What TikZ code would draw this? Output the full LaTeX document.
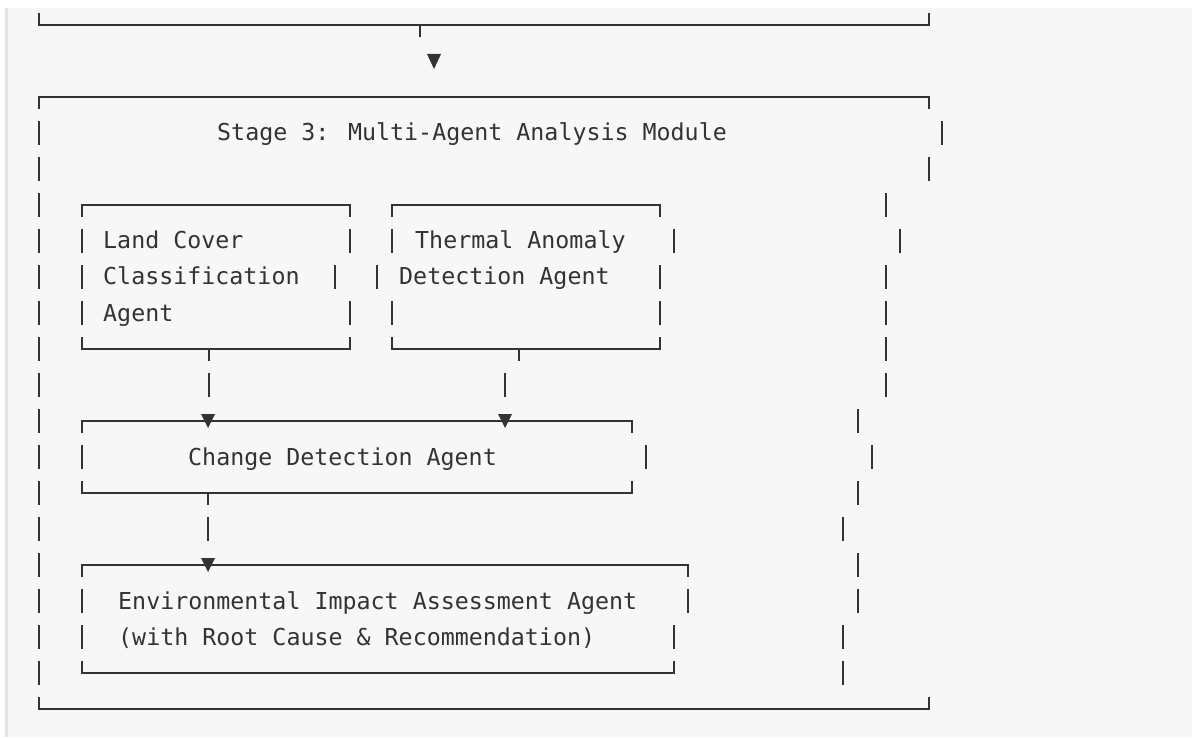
\documentclass[tikz,border=0pt]{standalone}
\usepackage{fontspec}
\newfontfamily\codefont{DejaVu Sans Mono}
\usetikzlibrary{calc}

\definecolor{ink}{HTML}{333333}
\definecolor{paper}{HTML}{F7F7F7}
\definecolor{rim}{HTML}{E3E3E3}

\begin{document}
\begin{tikzpicture}[x=1pt, y=-1pt,
		txt/.style={anchor=base west, inner sep=0pt, text=ink, font=\codefont\fontsize{23.3}{28}\selectfont},
		boxline/.style={draw=ink, line width=1.6pt},
		vbar/.style={draw=ink, line width=1.5pt},
		tip/.style={fill=ink}]
		
		\useasboundingbox (0,0) rectangle (1192,738);
		
		% Hintergrund
		\fill[paper] (5,8) rectangle (1192,737);
		\fill[rim] (5,8) rectangle (7.5,737);
		
		% Rest der vorigen Stufe
		\draw[boxline] (39,13) -- (39,25) -- (929,25) -- (929,13);
		\coordinate (prevTee) at (420,25);
		\coordinate (stageIn) at (434,61);
		\draw[vbar] (prevTee) -- ++(0,12);
		\fill[tip] (stageIn) ++(-7,-7) -- ++(14,0) -- ++(-7,15) -- cycle;
		
		% Aeusserer Rahmen (Stufe 3)
		\draw[boxline] (39,109) -- (39,97) -- (929,97) -- (929,109);
		\draw[boxline] (39,697) -- (39,709) -- (929,709) -- (929,697);
		\foreach \k in {3,...,18}
			\draw[vbar] (39,25+36*\k-12) -- ++(0,24);
		\foreach \x/\k in {942/3, 929/4, 886/5, 900/6, 886/7, 886/8, 886/9, 886/10,
			858/11, 872/12, 858/13, 843/14, 858/15, 858/16, 843/17, 843/18}
			\draw[vbar] (\x,25+36*\k-12) -- ++(0,24);
		\node[txt] (stage) at (217,141) {Stage 3: Multi-Agent Analysis Module};
		
		% Land Cover Agent
		\draw[boxline] (82,217) -- (82,205) -- (350,205) -- (350,217);
		\draw[boxline] (82,337) -- (82,349) -- (350,349) -- (350,337);
		\foreach \x/\k in {82/6, 82/7, 82/8, 350/6, 335/7, 350/8}
			\draw[vbar] (\x,25+36*\k-12) -- ++(0,24);
		\node[txt] (landA) at (103,249) {Land Cover};
		\node[txt] (landB) at (103,285) {Classification};
		\node[txt] (landC) at (103,321) {Agent};
		
		% Thermal Anomaly Agent
		\draw[boxline] (392,217) -- (392,205) -- (660,205) -- (660,217);
		\draw[boxline] (392,337) -- (392,349) -- (660,349) -- (660,337);
		\foreach \x/\k in {392/6, 377/7, 392/8, 674/6, 660/7, 660/8}
			\draw[vbar] (\x,25+36*\k-12) -- ++(0,24);
		\node[txt] (thermA) at (415,249) {Thermal Anomaly};
		\node[txt] (thermB) at (399,285) {Detection Agent};
		
		% Change Detection Agent
		\draw[boxline] (82,433) -- (82,421) -- (632,421) -- (632,433);
		\draw[boxline] (82,481) -- (82,493) -- (632,493) -- (632,481);
		\foreach \x/\k in {82/12, 646/12}
			\draw[vbar] (\x,25+36*\k-12) -- ++(0,24);
		\node[txt] (change) at (188,465) {Change Detection Agent};
		
		% Environmental Impact Agent
		\draw[boxline] (82,577) -- (82,565) -- (688,565) -- (688,577);
		\draw[boxline] (82,661) -- (82,673) -- (674,673) -- (674,661);
		\foreach \x/\k in {82/16, 82/17, 688/16, 674/17}
			\draw[vbar] (\x,25+36*\k-12) -- ++(0,24);
		\node[txt] (envA) at (118,609) {Environmental Impact Assessment Agent};
		\node[txt] (envB) at (118,645) {(with Root Cause \& Recommendation)};
		
		% Verbindungen
		\coordinate (landTee) at (209,349);
		\coordinate (thermTee) at (519,349);
		\coordinate (changeInL) at (208,421);
		\coordinate (changeInR) at (505,421);
		\coordinate (changeTee) at (208,493);
		\coordinate (envIn) at (208,565);
		\draw[vbar] (landTee) -- ++(0,12);
		\draw[vbar] (thermTee) -- ++(0,12);
		\draw[vbar] (changeTee) -- ++(0,12);
		\draw[vbar] (209,373) -- ++(0,24);
		\draw[vbar] (505,373) -- ++(0,24);
		\draw[vbar] (208,517) -- ++(0,24);
		\foreach \p in {changeInL, changeInR, envIn}
			\fill[tip] (\p) ++(-7,-7) -- ++(14,0) -- ++(-7,14) -- cycle;
		
\end{tikzpicture}
\end{document}
